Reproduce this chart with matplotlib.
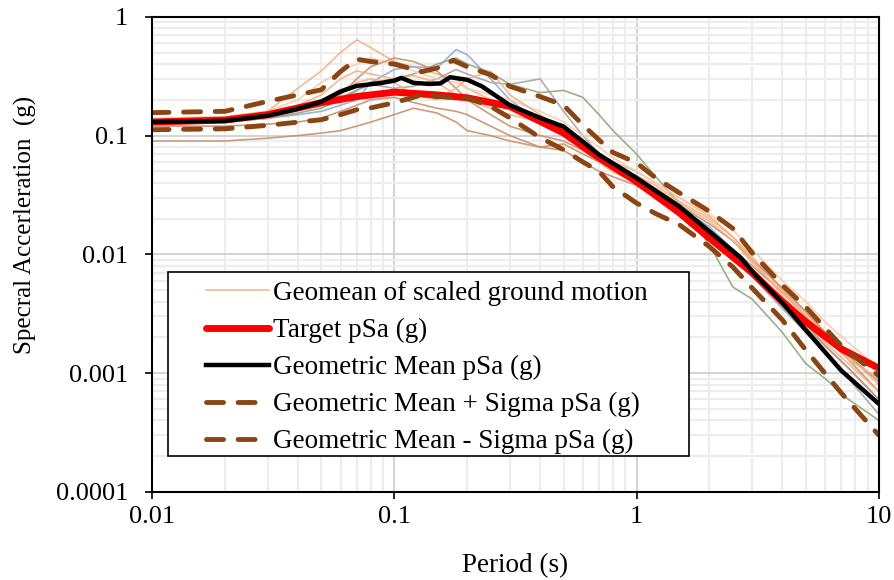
import matplotlib
matplotlib.use("Agg")
import matplotlib.pyplot as plt
import matplotlib.patches as mpatches
import numpy as np
from matplotlib.ticker import FixedLocator, FixedFormatter, LogLocator, NullFormatter

plt.rcParams['font.family'] = ['Liberation Serif', 'DejaVu Serif']

# ---- main curves ----
T_main = [0.01, 0.02, 0.03, 0.05, 0.07, 0.1, 0.15, 0.2, 0.3, 0.5, 0.7, 1.0, 1.5, 2.0, 3.0, 4.0, 5.0, 7.0, 10.0]
target = [0.13, 0.135, 0.15, 0.189, 0.213, 0.232, 0.22, 0.208, 0.176, 0.105, 0.065, 0.041, 0.0224, 0.0137, 0.007, 0.004,
          0.0027, 0.0016, 0.0011]

T_gm = [0.01, 0.02, 0.03, 0.04, 0.05, 0.06, 0.07, 0.088, 0.1, 0.107, 0.12, 0.14, 0.155, 0.17, 0.2, 0.23, 0.3, 0.4, 0.5, 0.6,
        0.7, 1.0, 1.5, 2.0, 2.7, 3.0, 4.0, 5.0, 7.0, 10.0]
geomean = [0.13, 0.133, 0.147, 0.168, 0.193, 0.235, 0.262, 0.277, 0.29, 0.306, 0.278, 0.272, 0.275, 0.31, 0.295, 0.26, 0.18,
           0.141, 0.119, 0.089, 0.069, 0.044, 0.0253, 0.0156, 0.0093, 0.0072, 0.0039, 0.0023, 0.00105, 0.00055]

T_sig = [0.01, 0.02, 0.03, 0.05, 0.06, 0.07, 0.08, 0.1, 0.13, 0.15, 0.175, 0.2, 0.25, 0.3, 0.4, 0.5, 0.6, 0.7, 0.8,
         1.0, 1.2, 1.5, 2.0, 2.5, 3.0, 4.0, 5.0, 7.0, 10.0]
plus_sigma = [0.156, 0.16, 0.194, 0.243, 0.346, 0.44, 0.42, 0.40, 0.345, 0.37, 0.43, 0.38, 0.325, 0.26, 0.213, 0.18, 0.123,
              0.092, 0.072, 0.059, 0.044, 0.033, 0.023, 0.0165, 0.0103, 0.0055, 0.0036, 0.0017, 0.00095]
minus_sigma = [0.112, 0.114, 0.122, 0.136, 0.15, 0.165, 0.171, 0.189, 0.22, 0.213, 0.21, 0.208, 0.176, 0.141, 0.096, 0.076,
               0.06, 0.05, 0.037, 0.027, 0.022, 0.0178, 0.0116, 0.0078, 0.0052, 0.0028, 0.00156, 0.00068, 0.0003]

# ---- individual scaled ground motions ----
T_rec = [0.01, 0.02, 0.03, 0.04, 0.05, 0.06, 0.07, 0.08, 0.1, 0.12, 0.15, 0.18, 0.2, 0.25, 0.3, 0.4, 0.5, 0.6, 0.7, 0.8,
         1.0, 1.2, 1.5, 2.0, 2.5, 3.0, 4.0, 5.0, 6.0, 7.5, 10.0]
rec1 = [0.13, 0.14, 0.16, 0.25, 0.35, 0.50, 0.64, 0.55, 0.42, 0.38, 0.33, 0.30, 0.25, 0.20, 0.17, 0.14, 0.12, 0.09, 0.07,
        0.06, 0.05, 0.04, 0.03, 0.021, 0.014, 0.0095, 0.005, 0.0032, 0.0022, 0.0014, 0.0008]
rec2 = [0.09, 0.09, 0.095, 0.10, 0.105, 0.11, 0.12, 0.13, 0.15, 0.17, 0.155, 0.13, 0.11, 0.10, 0.09, 0.08, 0.085, 0.07, 0.06,
        0.05, 0.04, 0.032, 0.022, 0.015, 0.011, 0.008, 0.0048, 0.003, 0.0021, 0.0013, 0.0007]
rec3 = [0.125, 0.13, 0.14, 0.15, 0.16, 0.18, 0.20, 0.28, 0.36, 0.38, 0.37, 0.53, 0.48, 0.30, 0.20, 0.13, 0.10, 0.085, 0.065,
        0.055, 0.042, 0.033, 0.025, 0.017, 0.011, 0.007, 0.0036, 0.0024, 0.0017, 0.0011, 0.0006]
rec4 = [0.125, 0.13, 0.14, 0.17, 0.19, 0.21, 0.24, 0.27, 0.25, 0.26, 0.30, 0.36, 0.33, 0.28, 0.27, 0.30, 0.16, 0.10, 0.07,
        0.055, 0.038, 0.030, 0.022, 0.015, 0.010, 0.0065, 0.0035, 0.0022, 0.0015, 0.0009, 0.00045]
rec5 = [0.13, 0.135, 0.14, 0.155, 0.17, 0.20, 0.24, 0.28, 0.30, 0.33, 0.40, 0.45, 0.40, 0.34, 0.27, 0.23, 0.24, 0.21, 0.15,
        0.11, 0.07, 0.045, 0.027, 0.012, 0.0053, 0.0042, 0.0022, 0.0012, 0.0009, 0.0006, 0.0004]
rec6 = [0.14, 0.145, 0.16, 0.20, 0.28, 0.35, 0.40, 0.45, 0.40, 0.35, 0.30, 0.28, 0.25, 0.22, 0.20, 0.16, 0.13, 0.10, 0.08,
        0.065, 0.05, 0.04, 0.03, 0.022, 0.016, 0.011, 0.006, 0.004, 0.0027, 0.0018, 0.0011]
rec7 = [0.13, 0.135, 0.145, 0.17, 0.19, 0.22, 0.30, 0.38, 0.45, 0.42, 0.35, 0.25, 0.20, 0.15, 0.12, 0.10, 0.09, 0.075, 0.06,
        0.05, 0.04, 0.033, 0.026, 0.018, 0.013, 0.009, 0.0052, 0.0033, 0.0022, 0.0014, 0.00085]
rec8 = [0.135, 0.14, 0.15, 0.17, 0.20, 0.24, 0.28, 0.30, 0.28, 0.22, 0.20, 0.25, 0.30, 0.35, 0.22, 0.15, 0.11, 0.085, 0.065,
        0.055, 0.046, 0.038, 0.028, 0.020, 0.014, 0.009, 0.0045, 0.0028, 0.0018, 0.0012, 0.0007]
rec9 = [0.12, 0.12, 0.125, 0.13, 0.14, 0.16, 0.18, 0.20, 0.21, 0.19, 0.17, 0.16, 0.15, 0.12, 0.10, 0.08, 0.075, 0.06, 0.05,
        0.045, 0.038, 0.030, 0.022, 0.016, 0.011, 0.0075, 0.004, 0.0026, 0.0017, 0.0011, 0.0006]
rec10 = [0.13, 0.13, 0.14, 0.18, 0.22, 0.30, 0.35, 0.33, 0.30, 0.32, 0.28, 0.22, 0.20, 0.17, 0.15, 0.13, 0.10, 0.08, 0.06,
         0.05, 0.043, 0.036, 0.027, 0.019, 0.013, 0.0085, 0.0048, 0.0030, 0.002, 0.0013, 0.0009]
records = [rec1, rec2, rec3, rec4, rec5, rec6, rec7, rec8, rec9, rec10]
rec_colors = ['#F4B183', '#C9906C', '#8FAADC', '#A5A5A5', '#8FA87E', '#F8CBAD', '#C9906C', '#F4B183', '#C9906C', '#F4B183']

x_ticks = [0.01, 0.1, 1, 10]
x_labels = ['0.01', '0.1', '1', '10']
y_ticks = [0.0001, 0.001, 0.01, 0.1, 1]
y_labels = ['0.0001', '0.001', '0.01', '0.1', '1']

labels = ['Geomean of scaled ground motion', 'Target pSa (g)', 'Geometric Mean pSa (g)',
          'Geometric Mean + Sigma pSa (g)', 'Geometric Mean - Sigma pSa (g)']

fig = plt.figure(figsize=(8.94, 5.8), dpi=100)
ax = fig.add_axes([0.170, 0.152, 0.813, 0.819])
ax.set_xscale('log')
ax.set_yscale('log')
ax.set_xlim(0.01, 10)
ax.set_ylim(0.0001, 1)

ax.xaxis.set_major_locator(FixedLocator(x_ticks))
ax.xaxis.set_major_formatter(FixedFormatter(x_labels))
ax.yaxis.set_major_locator(FixedLocator(y_ticks))
ax.yaxis.set_major_formatter(FixedFormatter(y_labels))
ax.xaxis.set_minor_locator(LogLocator(base=10, subs=np.arange(2, 10), numticks=20))
ax.yaxis.set_minor_locator(LogLocator(base=10, subs=np.arange(2, 10), numticks=20))
ax.xaxis.set_minor_formatter(NullFormatter())
ax.yaxis.set_minor_formatter(NullFormatter())

ax.grid(which='minor', color='#EDEDED', linewidth=1.6)
ax.grid(which='major', color='#D0D0D0', linewidth=1.3)
ax.set_axisbelow(True)
ax.tick_params(which='minor', length=0)
ax.tick_params(which='major', direction='out', length=5, width=1.2, labelsize=19, colors='black')
ax.tick_params(axis='y', pad=12)
ax.tick_params(axis='x', pad=5)
for s in ax.spines.values():
    s.set_color('black')
    s.set_linewidth(1.5)

h_rec = None
for r, c in zip(records, rec_colors):
    h, = ax.plot(T_rec, r, color=c, linewidth=1.2, alpha=0.9)
    if h_rec is None:
        h_rec = h
h_t, = ax.plot(T_main, target, color='#FF0000', linewidth=5, solid_capstyle='round')
h_g, = ax.plot(T_gm, geomean, color='black', linewidth=3.2)
h_p, = ax.plot(T_sig, plus_sigma, color='#8B4513', linewidth=3.5, dashes=(3.5, 3.0), dash_capstyle='round')
h_m, = ax.plot(T_sig, minus_sigma, color='#8B4513', linewidth=3.5, dashes=(3.5, 3.0), dash_capstyle='round')

# legend frame (drawn separately to get the wide left indent)
frame = mpatches.Rectangle((0.022, 0.0758), 0.717, 0.387, transform=ax.transAxes, facecolor='white',
                           edgecolor='black', linewidth=1.2, zorder=4)
ax.add_patch(frame)
leg = ax.legend([h_rec, h_t, h_g, h_p, h_m], labels, loc='upper left', bbox_to_anchor=(0.075, 0.444),
                fontsize=19.5, frameon=False, handlelength=2.3, handletextpad=0.15, labelspacing=0.44,
                borderpad=0, borderaxespad=0)
leg.set_zorder(5)

ax.set_xlabel('Period (s)', fontsize=19.5)
ax.xaxis.set_label_coords(0.5, -0.128)
ax.set_ylabel('Specral Accerleration  (g)', fontsize=18)
ax.yaxis.set_label_coords(-0.158, 0.562)

fig.savefig('out.png', dpi=100)
